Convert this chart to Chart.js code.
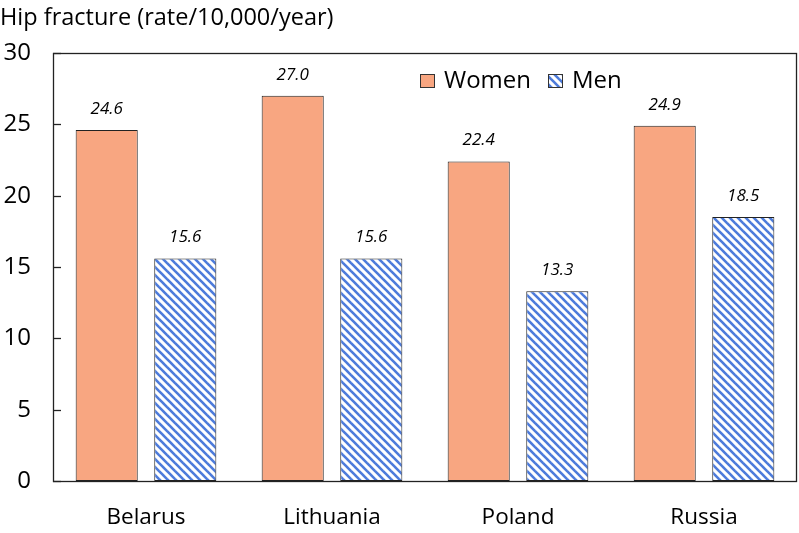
<!DOCTYPE html>
<html>
<head>
<meta charset="utf-8">
<script src="https://cdn.jsdelivr.net/npm/chart.js@4/dist/chart.umd.min.js"></script>
<style>
  html, body { margin: 0; padding: 0; background: #fff; }
</style>
</head>
<body>
<canvas id="chart" width="799" height="533"></canvas>
<script>
// values
const countries = ['Belarus', 'Lithuania', 'Poland', 'Russia'];
const women = [24.6, 27.0, 22.4, 24.9];
const men = [15.6, 15.6, 13.3, 18.5];
const seriesNames = ['Women', 'Men'];
const yTicks = [0, 5, 10, 15, 20, 25, 30];
const titleText = 'Hip fracture (rate/10,000/year)';

const FONT = '"Open Sans", Lato, sans-serif';
const ORANGE = '#F8A681';
const BLUE = '#4D7BDB';

// diagonal hatch for the men bars
const makeHatch = () => {
  const size = 8;
  const c = document.createElement('canvas');
  c.width = size;
  c.height = size;
  const g = c.getContext('2d');
  g.fillStyle = '#fff';
  g.fillRect(0, 0, size, size);
  g.strokeStyle = BLUE;
  g.lineWidth = 2.6;
  [-size, 0, size].forEach((o) => {
    g.beginPath();
    g.moveTo(o - 1, -1);
    g.lineTo(o + size + 1, size + 1);
    g.stroke();
  });
  return g.createPattern(c, 'repeat');
};

const ctx = document.getElementById('chart').getContext('2d');
const hatch = makeHatch();

// frame round the plot plus inward tick marks on the y axis
const framePlugin = {
  id: 'frame',
  afterDatasetsDraw(chart) {
    const { ctx, chartArea: a, scales } = chart;
    ctx.save();
    ctx.strokeStyle = '#222';
    ctx.lineWidth = 1.3;
    ctx.strokeRect(a.left + 0.5, a.top + 0.5, a.right - a.left - 1, a.bottom - a.top);
    yTicks.forEach((v) => {
      const y = Math.round(scales.y.getPixelForValue(v)) + 0.5;
      ctx.beginPath();
      ctx.moveTo(a.left, y);
      ctx.lineTo(a.left + 8, y);
      ctx.stroke();
    });
    ctx.restore();
  }
};

// italic value above each bar
const valueLabels = {
  id: 'valueLabels',
  afterDatasetsDraw(chart) {
    const { ctx } = chart;
    ctx.save();
    ctx.font = 'italic 17px ' + FONT;
    ctx.fillStyle = '#000';
    ctx.textAlign = 'center';
    ctx.textBaseline = 'middle';
    chart.data.datasets.forEach((ds, i) => {
      chart.getDatasetMeta(i).data.forEach((bar, j) => {
        ctx.fillText(ds.data[j].toFixed(1), bar.x, bar.y - 21);
      });
    });
    ctx.restore();
  }
};

// legend sits inside the plot, top right
const innerLegend = {
  id: 'innerLegend',
  afterDraw(chart) {
    const { ctx } = chart;
    const items = [
      { label: seriesNames[0], fill: ORANGE, x: 420 },
      { label: seriesNames[1], fill: hatch, x: 548 }
    ];
    ctx.save();
    ctx.font = '24px ' + FONT;
    ctx.textBaseline = 'middle';
    ctx.textAlign = 'left';
    items.forEach((it) => {
      ctx.fillStyle = it.fill;
      ctx.fillRect(it.x, 74, 15, 14);
      ctx.strokeStyle = '#333';
      ctx.lineWidth = 1;
      ctx.strokeRect(it.x + 0.5, 74.5, 14, 13);
      ctx.fillStyle = '#000';
      ctx.fillText(it.label, it.x + 24, 81);
    });
    ctx.restore();
  }
};

new Chart(ctx, {
  type: 'bar',
  data: {
    labels: countries,
    datasets: [
      {
        label: seriesNames[0],
        data: women,
        backgroundColor: ORANGE,
        borderColor: '#222',
        borderWidth: 1,
        borderSkipped: false,
        categoryPercentage: 0.845,
        barPercentage: 0.79
      },
      {
        label: seriesNames[1],
        data: men,
        backgroundColor: hatch,
        borderColor: '#222',
        borderWidth: 1,
        borderSkipped: false,
        categoryPercentage: 0.845,
        barPercentage: 0.79
      }
    ]
  },
  options: {
    responsive: false,
    animation: false,
    devicePixelRatio: 1,
    layout: { padding: { left: 0, right: 2, top: 0, bottom: 0 } },
    plugins: {
      legend: { display: false },
      tooltip: { enabled: false },
      title: {
        display: true,
        text: titleText,
        align: 'start',
        color: '#000',
        font: { family: FONT, size: 23.5, weight: 'normal', lineHeight: 1.2 },
        padding: { top: 4, bottom: 20.8 }
      }
    },
    scales: {
      x: {
        grid: { display: false, drawTicks: false },
        border: { display: false },
        ticks: { color: '#000', font: { family: FONT, size: 22.5 }, padding: 23 },
        afterFit: (s) => { s.height = 52; }
      },
      y: {
        min: 0,
        max: 30,
        grid: { display: false, drawTicks: false },
        border: { display: false },
        afterBuildTicks: (s) => { s.ticks = yTicks.map((v) => ({ value: v })); },
        ticks: { color: '#000', font: { family: FONT, size: 24 }, padding: 22 },
        afterFit: (s) => { s.width = 53; }
      }
    }
  },
  plugins: [framePlugin, valueLabels, innerLegend]
});
</script>
</body>
</html>
